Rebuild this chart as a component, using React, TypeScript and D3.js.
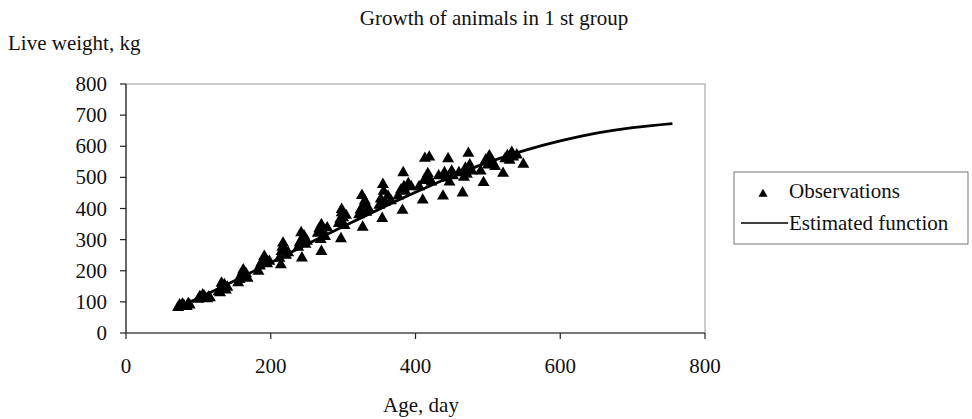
import React from 'react';
import * as d3 from 'd3';

const obsAge = [
  72, 74, 76, 78, 80, 84, 86, 88,
  100, 102, 104, 106, 108, 112, 114, 116,
  128, 130, 132, 133, 135, 136, 138, 140,
  155, 157, 159, 161, 162, 164, 166, 168,
  183, 185, 187, 189, 191, 193, 195, 198,
  212, 214, 215, 216, 217, 219, 221, 224,
  238, 240, 242, 243, 244, 246, 248, 250,
  265, 267, 269, 270, 270, 272, 275, 278,
  294, 296, 297, 298, 298, 300, 302, 304,
  322, 324, 326, 327, 328, 330, 332, 335,
  350, 352, 354, 355, 356, 358, 362, 366,
  376, 380, 382, 383, 384, 386, 390, 394,
  405, 410, 412, 413, 415, 417, 419, 422,
  432, 438, 440, 442, 445, 447, 450, 452,
  460, 465, 467, 469, 471, 473, 475, 478,
  490, 494, 497, 500, 502, 504, 507, 510,
  521, 524, 527, 530, 533, 535, 540, 549,
];
const obsWeight = [
  82, 90, 86, 93, 88, 85, 94, 90,
  108, 117, 112, 122, 118, 110, 115, 113,
  132, 129, 160, 150, 142, 155, 138, 147,
  161, 172, 185, 195, 203, 180, 190, 176,
  198, 215, 225, 232, 246, 238, 222, 230,
  240, 219, 262, 275, 289, 268, 250, 258,
  275, 290, 322, 241, 305, 312, 285, 295,
  320, 335, 300, 348, 262, 328, 310, 338,
  352, 365, 303, 386, 397, 370, 345, 378,
  380, 395, 442, 340, 410, 425, 388, 400,
  410, 430, 368, 477, 455, 420, 440, 425,
  440, 460, 394, 515, 470, 455, 480, 470,
  470, 427, 490, 561, 500, 512, 565, 485,
  505, 440, 515, 498, 560, 485, 520, 505,
  515, 450, 500, 530, 510, 577, 540, 520,
  520, 483, 555, 540, 569, 560, 545, 535,
  513, 560, 570, 555, 580, 565, 572, 542,
];

// estimated growth function
const fitAge = [75, 100, 150, 200, 250, 300, 350, 400, 450, 500, 550, 600, 650, 700, 755];
const fitWeight = [85, 112, 168, 226, 285, 342, 398, 452, 503, 548, 586, 617, 642, 660, 673];

const xTicks = [0, 200, 400, 600, 800];
const yTicks = [0, 100, 200, 300, 400, 500, 600, 700, 800];

const title = 'Growth of animals in 1 st group';
const yTitle = 'Live weight, kg';
const xTitle = 'Age, day';
const legendLabels = ['Observations', 'Estimated function'];

const W = 972;
const H = 419;
const plot = { left: 126, right: 705, top: 84, bottom: 333 };
const txt: React.CSSProperties = {
  fontFamily: "'Liberation Serif', 'DejaVu Serif', 'Times New Roman', serif",
  fontSize: '21px',
  fill: '#111',
};

export default function App() {
  const x = d3.scaleLinear().domain([0, 800]).range([plot.left, plot.right]);
  const y = d3.scaleLinear().domain([0, 800]).range([plot.bottom, plot.top]);

  const tri = d3.symbol().type(d3.symbolTriangle).size(62)() || '';
  const legendTri = d3.symbol().type(d3.symbolTriangle).size(36)() || '';

  const fitLine = d3
    .line<number>()
    .x((_, i) => x(fitAge[i]))
    .y((d) => y(d))
    .curve(d3.curveMonotoneX)(fitWeight) || '';

  return (
    <svg
      width={W}
      height={H}
      style={{ position: 'absolute', left: 0, top: 0, background: '#fff' }}
    >
      <rect x={0} y={0} width={W} height={H} fill="#fff" />

      <text x={494} y={25} textAnchor="middle" style={txt}>
        {title}
      </text>
      <text x={8} y={50} style={txt}>
        {yTitle}
      </text>

      {/* plot area frame */}
      <rect
        x={plot.left}
        y={plot.top}
        width={plot.right - plot.left}
        height={plot.bottom - plot.top}
        fill="none"
        stroke="#999"
        strokeWidth={1}
      />

      {/* y axis */}
      <line x1={plot.left} x2={plot.left} y1={plot.top} y2={plot.bottom} stroke="#222" strokeWidth={1.2} />
      {yTicks.map((t) => (
        <g key={`y${t}`}>
          <line x1={plot.left - 6} x2={plot.left} y1={y(t)} y2={y(t)} stroke="#222" strokeWidth={1.2} />
          <text x={107} y={y(t) + 7} textAnchor="end" style={txt}>
            {t}
          </text>
        </g>
      ))}

      {/* x axis */}
      <line x1={plot.left} x2={plot.right} y1={plot.bottom} y2={plot.bottom} stroke="#222" strokeWidth={1.2} />
      {xTicks.map((t) => (
        <g key={`x${t}`}>
          <line x1={x(t)} x2={x(t)} y1={plot.bottom} y2={plot.bottom + 6} stroke="#222" strokeWidth={1.2} />
          <text x={x(t)} y={373} textAnchor="middle" style={txt}>
            {t}
          </text>
        </g>
      ))}
      <text x={421} y={412} textAnchor="middle" style={txt}>
        {xTitle}
      </text>

      {/* observations */}
      {obsAge.map((a, i) => (
        <path key={i} d={tri} transform={`translate(${x(a)},${y(obsWeight[i])})`} fill="#000" />
      ))}

      {/* estimated function */}
      <path d={fitLine} fill="none" stroke="#000" strokeWidth={2.8} />

      {/* legend */}
      <rect x={734} y={172} width={234} height={72} fill="#fff" stroke="#777" strokeWidth={1} />
      <path d={legendTri} transform="translate(763,194)" fill="#000" />
      <text x={789} y={198} style={txt}>
        {legendLabels[0]}
      </text>
      <line x1={741} x2={788} y1={223} y2={223} stroke="#000" strokeWidth={1.6} />
      <text x={789} y={230} style={txt}>
        {legendLabels[1]}
      </text>
    </svg>
  );
}
